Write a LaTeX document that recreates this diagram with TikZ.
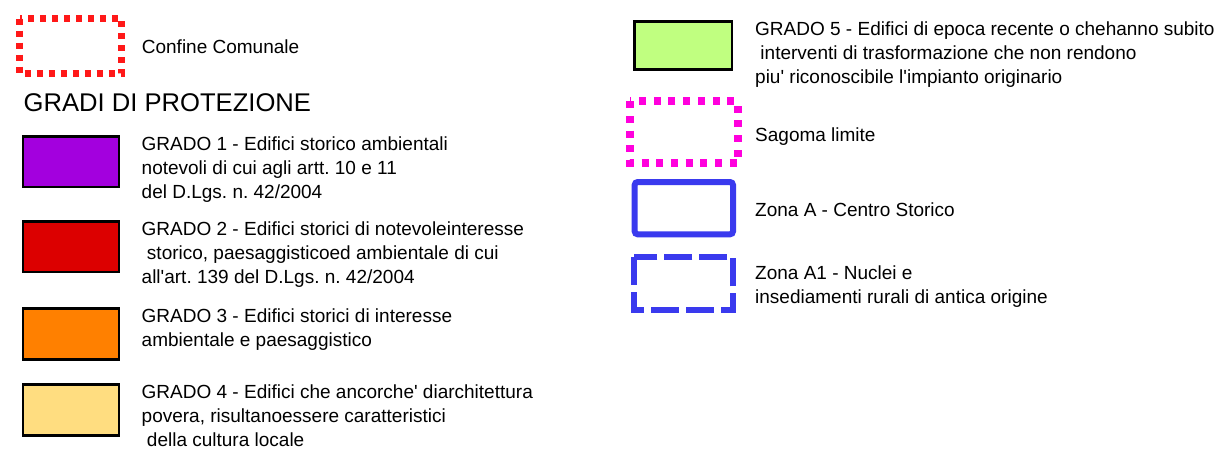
\documentclass[tikz,border=0pt]{standalone}
\usepackage{fontspec}
\setmainfont{Liberation Sans}
\definecolor{gpurple}{RGB}{163,0,222}
\definecolor{gred}{RGB}{220,0,0}
\definecolor{gorange}{RGB}{255,128,0}
\definecolor{gyellow}{RGB}{255,221,128}
\definecolor{ggreen}{RGB}{192,255,128}
\definecolor{confred}{RGB}{255,24,24}
\definecolor{sagmag}{RGB}{255,0,221}
\definecolor{zonblue}{RGB}{58,58,238}
\newcommand{\lines}[1]{\begin{tabular}[t]{@{}l@{}}#1\end{tabular}}
\newcommand{\apo}{\textquotesingle}
\frenchspacing
\begin{document}
\frenchspacing
\begin{tikzpicture}[x=1pt,y=-1pt,
  lbl/.style={anchor=base west, inner sep=0pt, font=\fontsize{19}{24}\selectfont},
  swatch/.style={draw=black, line width=2.5pt},
  confine/.style={draw=confred, line width=7pt, dash pattern=on 6pt off 6pt},
  sagoma/.style={draw=sagmag, line width=8pt, dash pattern=on 7pt off 7.7pt},
  zonaA/.style={draw=zonblue, line width=6pt, rounded corners=3pt},
  zonaAone/.style={draw=zonblue, line width=6pt, dash pattern=on 28pt off 7pt}]
\useasboundingbox[fill=white] (0,0) rectangle (1224,448);

% Confine Comunale
\draw[confine] (19.5,18.5) rectangle (121.5,73.5);
\node[lbl] (conf) at (141.7,53.3) {Confine Comunale};

\node[anchor=base west, inner sep=0pt, font=\fontsize{25.6}{30}\selectfont] (title) at (23.5,111.7) {GRADI DI PROTEZIONE};

% left column swatches
\draw[swatch, fill=gpurple] (22.75,136.25) rectangle (119,187);
\draw[swatch, fill=gred]    (22.75,221.25) rectangle (119,272);
\draw[swatch, fill=gorange] (22.75,308.25) rectangle (119,359.5);
\draw[swatch, fill=gyellow] (22.75,384.25) rectangle (119,435.5);

\node[lbl] (g1) at (141.5,150) {\lines{GRADO 1 - Edifici storico ambientali\\notevoli di cui agli artt. 10 e 11\\del D.Lgs. n. 42/2004}};
\node[lbl] (g2) at (141.5,235.5) {\lines{GRADO 2 - Edifici storici di notevoleinteresse\\\ storico, paesaggisticoed ambientale di cui\\all\apo art. 139 del D.Lgs. n. 42/2004}};
\node[lbl] (g3) at (141.5,322) {\lines{GRADO 3 - Edifici storici di interesse\\ambientale e paesaggistico}};
\node[lbl] (g4) at (141.5,398) {\lines{GRADO 4 - Edifici che ancorche\apo{} diarchitettura\\povera, risultanoessere caratteristici\\\ della cultura locale}};

% right column
\draw[swatch, fill=ggreen] (634.25,21.25) rectangle (731.75,69.5);
\node[lbl] (g5) at (755,35) {\lines{GRADO 5 - Edifici di epoca recente o chehanno subito\\\ interventi di trasformazione che non rendono\\piu\apo{} riconoscibile l\apo impianto originario}};

\draw[sagoma] (630,101.3) rectangle (737.7,163.3);
\node[lbl] (sag) at (755,141) {Sagoma limite};

\draw[zonaA] (634.7,182) rectangle (733,234.3);
\node[lbl] (za) at (755,216) {Zona A - Centro Storico};

\draw[zonaAone] (634,257) rectangle (733,309.7);
\node[lbl] (za1) at (755,279) {\lines{Zona A1 - Nuclei e\\insediamenti rurali di antica origine}};
\end{tikzpicture}
\end{document}
